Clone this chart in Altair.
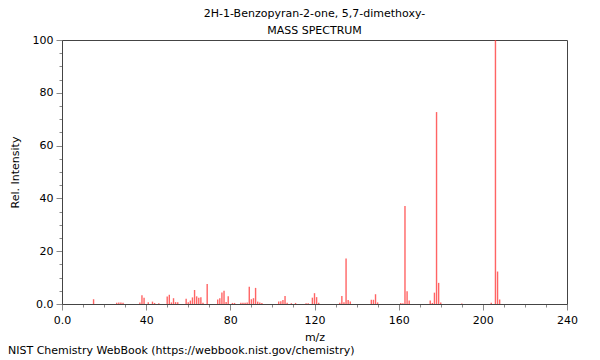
import altair as alt
import pandas as pd

mz = [15, 26, 27, 28, 29, 37, 38, 39, 41, 43, 44, 46, 50, 51, 52, 53, 54, 55,
      59, 60, 61, 62, 63, 64, 65, 66, 67, 69, 74, 75, 76, 77, 78, 79, 81, 82,
      85, 86, 87, 88, 89, 90, 91, 92, 93, 94, 95, 103, 104, 105, 106, 107, 109,
      111, 116, 117, 119, 120, 121, 122, 132, 133, 134, 135, 136, 137, 147, 148,
      149, 150, 161, 162, 163, 164, 165, 175, 176, 177, 178, 179, 180, 190, 204,
      206, 207, 208]
intensity = [1.8, 0.5, 0.6, 0.6, 0.5, 0.6, 3.3, 2.4, 0.7, 0.9, 0.4, 0.3, 2.8, 3.5,
             0.6, 2.2, 0.7, 0.7, 2.0, 0.7, 1.3, 2.5, 5.3, 2.9, 2.4, 2.6, 0.5, 7.6,
             1.7, 2.2, 4.4, 5.0, 0.8, 2.9, 0.4, 0.4, 0.5, 0.5, 0.5, 0.6, 6.5, 1.8,
             2.2, 6.1, 0.9, 0.6, 0.4, 0.9, 1.0, 1.5, 3.0, 0.5, 0.3, 0.4, 0.3, 0.3,
             2.4, 4.1, 2.6, 0.5, 0.5, 3.0, 0.7, 17.2, 1.5, 0.9, 1.6, 1.6, 3.7, 0.6,
             0.4, 0.3, 37.1, 4.8, 1.3, 1.3, 0.4, 4.3, 72.7, 8.0, 0.6, 0.2, 0.5,
             100.0, 12.3, 1.7]

x_ticks = list(range(0, 241, 10))
y_ticks = list(range(0, 101, 5))

title_lines = ["2H-1-Benzopyran-2-one, 5,7-dimethoxy-", "MASS SPECTRUM"]
footer = "NIST Chemistry WebBook (https://webbook.nist.gov/chemistry)"

df = pd.DataFrame({"mz": mz, "zero": [0] * len(mz), "intensity": intensity})

FONT = "DejaVu Sans"

x_axis = alt.Axis(
    values=x_ticks,
    labelExpr="datum.value % 40 == 0 ? (datum.value == 0 ? '0.0' : datum.label) : ''",
    tickSize={"condition": {"test": "datum.value % 40 == 0", "value": 6}, "value": 3},
    tickColor="#888888",
    domainColor="#444444",
    grid=False, labelFlush=False,
    labelFont=FONT, labelFontSize=11, labelColor="#000000", labelPadding=4,
    title="m/z", titleFont=FONT, titleFontSize=11, titleFontWeight="normal",
    titleColor="#000000", titlePadding=6,
)
y_axis = alt.Axis(
    values=y_ticks,
    labelExpr="datum.value % 20 == 0 ? (datum.value == 0 ? '0.0' : datum.label) : ''",
    tickSize={"condition": {"test": "datum.value % 20 == 0", "value": 6}, "value": 3},
    tickColor="#888888",
    domainColor="#444444",
    grid=False, labelFlush=False,
    labelFont=FONT, labelFontSize=11, labelColor="#000000", labelPadding=3,
    title="Rel. Intensity", titleFont=FONT, titleFontSize=11, titleFontWeight="normal",
    titleColor="#000000", titlePadding=12,
)

peaks = alt.Chart(df).mark_rule(color="#ff3030", strokeWidth=1.4, opacity=0.75).encode(
    x=alt.X("mz:Q", scale=alt.Scale(domain=[0, 240], nice=False), axis=x_axis),
    y=alt.Y("zero:Q", scale=alt.Scale(domain=[0, 100], nice=False), axis=y_axis),
    y2="intensity:Q",
)

titles = alt.Chart(pd.DataFrame({"t": title_lines, "yy": [-23, -6]})).mark_text(
    align="center", baseline="alphabetic", font=FONT, fontSize=11, color="#000000"
).encode(x=alt.value(252.5), y=alt.Y("yy:Q", scale=None), text="t:N")

foot = alt.Chart(pd.DataFrame({"t": [footer]})).mark_text(
    align="left", baseline="alphabetic", font=FONT, fontSize=11, color="#000000"
).encode(x=alt.value(-54), y=alt.value(314), text="t:N")

chart = alt.layer(peaks, titles, foot).properties(
    width=505,
    height=264,
    autosize=alt.AutoSizeParams(type="none"),
    padding={"left": 54, "top": 32, "right": 25, "bottom": 52},
).configure_view(stroke="#444444", strokeWidth=1)

chart.save("out.html", embed_options={"renderer": "svg", "actions": False})
